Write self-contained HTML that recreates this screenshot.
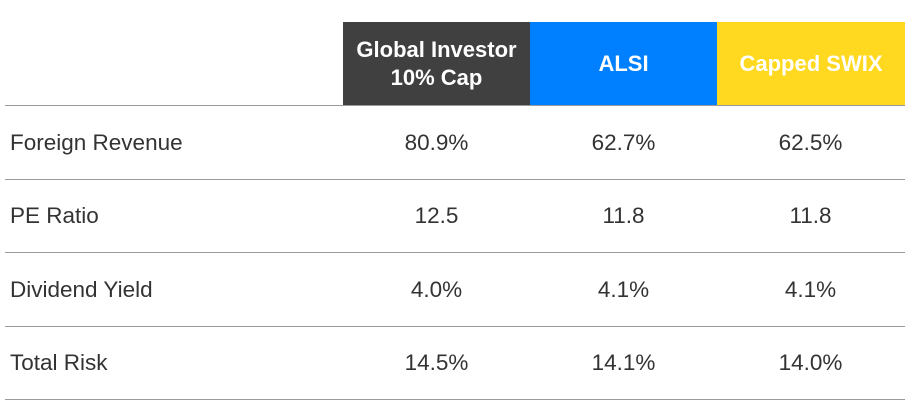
<!DOCTYPE html>
<html><head><style>
body{margin:0;width:922px;height:403px;background:#fff;font-family:"Liberation Sans",Arial,sans-serif;position:relative;overflow:hidden}
.h{position:absolute;top:22px;height:83px;display:flex;align-items:center;justify-content:center;text-align:center;color:#fff;font-weight:bold;font-size:22px;line-height:28px}
.line{position:absolute;left:5px;width:900px;height:1px;background:#9a9a9a}
.c{position:absolute;font-size:22.5px;color:#333;line-height:26px}
.v{text-align:center;width:187px}
</style></head><body>
<div class="h" style="left:343px;width:187px;background:#404040">Global Investor<br>10% Cap</div>
<div class="h" style="left:530px;width:187px;background:#0080ff">ALSI</div>
<div class="h" style="left:717px;width:188px;background:#ffd820">Capped SWIX</div>
<div class="line" style="top:105px"></div>
<div class="line" style="top:179px"></div>
<div class="line" style="top:252px"></div>
<div class="line" style="top:326px"></div>
<div class="line" style="top:399px"></div>

<div class="c" style="left:10px;top:130px">Foreign Revenue</div>
<div class="c v" style="left:343px;top:130px">80.9%</div>
<div class="c v" style="left:530px;top:130px">62.7%</div>
<div class="c v" style="left:717px;top:130px">62.5%</div>

<div class="c" style="left:10px;top:203px">PE Ratio</div>
<div class="c v" style="left:343px;top:203px">12.5</div>
<div class="c v" style="left:530px;top:203px">11.8</div>
<div class="c v" style="left:717px;top:203px">11.8</div>

<div class="c" style="left:10px;top:277px">Dividend Yield</div>
<div class="c v" style="left:343px;top:277px">4.0%</div>
<div class="c v" style="left:530px;top:277px">4.1%</div>
<div class="c v" style="left:717px;top:277px">4.1%</div>

<div class="c" style="left:10px;top:350px">Total Risk</div>
<div class="c v" style="left:343px;top:350px">14.5%</div>
<div class="c v" style="left:530px;top:350px">14.1%</div>
<div class="c v" style="left:717px;top:350px">14.0%</div>
</body></html>
